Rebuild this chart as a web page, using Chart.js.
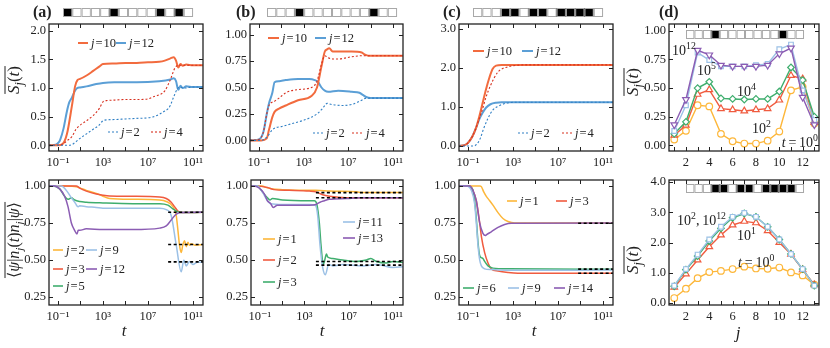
<!DOCTYPE html>
<html>
<head>
<meta charset="utf-8">
<script src="https://cdn.jsdelivr.net/npm/chart.js@4.4.1/dist/chart.umd.min.js"></script>
<style>
  html, body { margin: 0; padding: 0; background: #fff; }
  #wrap { position: relative; width: 830px; height: 348px; overflow: hidden; }
  #wrap canvas { position: absolute; }
</style>
</head>
<body>
<div id="wrap"></div>
<script>
// ---- data: [log10 t, value] pairs ----
// (a) upper: entanglement entropy
const aTopJ10 = [[-1.8,0],[-1,0],[-0.6,0.02],[-0.2,0.2],[0.23,0.68],[0.52,1.03],[0.73,1.14],[0.96,1.16],[1.54,1.22],[2.13,1.3],[2.7,1.38],[3,1.42],[4,1.43],[5,1.44],[6,1.44],[7,1.45],[8,1.46],[8.5,1.48],[9,1.52],[9.3,1.54],[9.5,1.48],[9.7,1.36],[9.9,1.42],[10.1,1.39],[10.4,1.41],[11,1.4],[11.9,1.4]];
const aTopJ12 = [[-1.8,0],[-1.2,0.01],[-0.94,0.05],[-0.8,0.1],[-0.5,0.3],[-0.2,0.6],[0,0.75],[0.2,0.82],[0.5,0.95],[0.7,1.0],[0.96,1.01],[1.54,1.03],[2.4,1.07],[3,1.09],[4,1.1],[6,1.1],[8,1.12],[9,1.15],[9.3,1.17],[9.5,1.12],[9.7,0.97],[9.9,1.04],[10.1,1.0],[10.4,1.03],[11,1.02],[11.9,1.02]];
const aTopJ2 = [[-1.8,0],[0,0],[0.23,0.01],[0.52,0.05],[0.96,0.12],[1.54,0.2],[2.13,0.28],[2.7,0.36],[2.94,0.42],[3.15,0.44],[4,0.45],[5,0.46],[6,0.47],[7,0.48],[7.5,0.5],[8,0.54],[8.5,0.6],[8.8,0.64],[9,0.7],[9.3,0.85],[9.6,0.98],[9.8,1.02],[10.2,1.0],[11,1.02],[11.9,1.02]];
const aTopJ4 = [[-1.8,0],[-1,0],[-0.5,0.03],[-0.2,0.08],[0.23,0.15],[0.6,0.28],[0.96,0.35],[1.54,0.43],[2.13,0.52],[2.7,0.65],[3,0.76],[3.3,0.78],[4,0.79],[5,0.8],[6,0.8],[7,0.81],[7.5,0.85],[8,0.88],[8.5,0.95],[9,1.15],[9.4,1.35],[9.7,1.4],[10,1.4],[11.9,1.4]];

// (b) upper
const bTopJ10 = [[-1.8,0],[-0.8,0],[-0.3,0.02],[-0.1,0.1],[0.2,0.22],[0.4,0.27],[0.8,0.3],[1.4,0.33],[2.5,0.38],[3.7,0.42],[4.2,0.5],[4.6,0.7],[4.9,0.84],[5.1,0.86],[5.3,0.87],[5.6,0.84],[6.1,0.84],[7.3,0.84],[8.2,0.83],[8.5,0.81],[8.8,0.8],[10,0.8],[11.9,0.8]];
const bTopJ12 = [[-1.8,0],[-1,0.01],[-0.6,0.08],[-0.3,0.25],[-0.1,0.35],[0.2,0.45],[0.4,0.55],[0.8,0.56],[1.4,0.57],[2.5,0.58],[3.5,0.58],[4,0.57],[4.3,0.55],[4.6,0.5],[4.9,0.47],[5.2,0.46],[6.1,0.47],[7.3,0.46],[8,0.45],[8.3,0.43],[8.6,0.41],[9,0.4],[11.9,0.4]];
const bTopJ2 = [[-1.8,0],[-0.8,0],[-0.3,0.03],[0.2,0.1],[0.5,0.12],[1,0.13],[2,0.16],[3,0.19],[3.7,0.22],[4.2,0.25],[4.6,0.29],[4.9,0.33],[5.1,0.35],[5.5,0.34],[6.5,0.33],[7.3,0.34],[7.8,0.36],[8.2,0.38],[8.6,0.4],[11.9,0.4]];
const bTopJ4 = [[-1.8,0],[-1,0.01],[-0.6,0.08],[-0.3,0.25],[-0.1,0.33],[0.4,0.37],[0.8,0.4],[1.4,0.45],[2.5,0.48],[3.7,0.5],[4.2,0.56],[4.6,0.72],[4.9,0.8],[5.2,0.78],[5.6,0.77],[6.1,0.77],[7.3,0.79],[8.2,0.8],[11.9,0.8]];

// (c) upper
const cTopJ10 = [[-1.8,0],[-1.3,0.02],[-1,0.08],[-0.6,0.25],[-0.3,0.45],[0,0.75],[0.3,1.1],[0.6,1.45],[0.9,1.75],[1.2,1.98],[1.5,2.06],[2,2.08],[11.9,2.08]];
const cTopJ12 = [[-1.8,0],[-1.3,0.02],[-1,0.08],[-0.6,0.25],[-0.3,0.45],[0,0.68],[0.3,0.85],[0.6,0.98],[1,1.07],[1.5,1.11],[2,1.12],[11.9,1.12]];
const cTopJ2 = [[-1.8,0],[-0.5,0],[-0.2,0.05],[0.1,0.2],[0.4,0.45],[0.8,0.72],[1.2,0.92],[1.7,1.02],[2.3,1.09],[3.2,1.12],[11.9,1.12]];
const cTopJ4 = [[-1.8,0],[-1.3,0.02],[-1,0.08],[-0.6,0.25],[-0.3,0.45],[0,0.7],[0.3,0.95],[0.6,1.25],[1,1.55],[1.67,1.9],[2.56,2.03],[3.4,2.07],[4,2.08],[11.9,2.08]];

// (a) lower: density autocorrelation
const aBotJ2 = [[-1.8,1],[-0.26,1],[0.63,0.995],[1,0.985],[1.52,0.97],[2.41,0.95],[3,0.93],[3.59,0.915],[5.67,0.91],[8.04,0.905],[8.63,0.895],[9.22,0.86],[9.52,0.8],[9.67,0.7],[9.81,0.6],[9.96,0.55],[10.1,0.6],[10.26,0.63],[10.41,0.59],[10.56,0.62],[10.7,0.6],[10.85,0.61],[11.2,0.6],[11.9,0.605]];
const aBotJ3 = [[-1.8,1],[0.63,1],[0.93,0.985],[1.52,0.965],[2.41,0.945],[3,0.937],[3.59,0.932],[5.67,0.93],[8.04,0.925],[8.63,0.915],[9.07,0.89],[9.37,0.86],[9.67,0.83],[10,0.82],[11.9,0.822]];
const aBotJ5 = [[-1.8,1],[-1.44,1],[-0.85,0.98],[-0.41,0.93],[-0.11,0.91],[0.19,0.92],[0.48,0.905],[0.93,0.895],[1.52,0.89],[3,0.885],[5.67,0.88],[8.04,0.88],[8.78,0.87],[9.22,0.845],[9.67,0.825],[10,0.82],[11.9,0.822]];
const aBotJ9 = [[-1.8,1],[-0.7,1],[-0.26,0.97],[0.19,0.92],[0.57,0.88],[0.69,0.865],[0.8,0.86],[0.93,0.866],[1.52,0.86],[2.41,0.855],[3,0.85],[5.67,0.85],[8.04,0.85],[8.63,0.84],[9.07,0.8],[9.52,0.6],[9.96,0.42],[10.2,0.5],[10.41,0.46],[10.7,0.49],[11,0.47],[11.4,0.485],[11.9,0.485]];
const aBotJ12 = [[-1.8,1],[-1.3,1],[-0.85,0.98],[-0.41,0.93],[-0.11,0.86],[0.19,0.75],[0.48,0.7],[0.69,0.675],[0.8,0.7],[0.93,0.7],[1.52,0.71],[3,0.705],[5.67,0.705],[8.04,0.715],[8.63,0.73],[9.07,0.77],[9.52,0.81],[10,0.82],[11.9,0.822]];
const aBotRef = [0.822, 0.605, 0.487];

// (b) lower
const bBotJ1 = [[-1.8,1],[-0.78,1],[-0.47,0.99],[0.13,0.98],[1.04,0.975],[3.15,0.97],[4.06,0.97],[5.27,0.965],[7.68,0.96],[8.29,0.955],[11.9,0.955]];
const bBotJ2 = [[-1.8,1],[-1.38,1],[-0.32,0.99],[0.28,0.975],[1.64,0.97],[3.45,0.965],[4.06,0.96],[4.66,0.94],[5.27,0.93],[6.78,0.92],[11.9,0.92]];
const bBotJ3 = [[-1.8,1],[-1.23,1],[-0.78,0.96],[-0.32,0.92],[-0.1,0.905],[0.13,0.915],[1.04,0.905],[3.45,0.9],[3.91,0.9],[4.12,0.88],[4.36,0.75],[4.51,0.6],[4.72,0.47],[4.85,0.5],[5,0.54],[5.11,0.52],[5.57,0.51],[6.47,0.5],[7.68,0.49],[8.59,0.5],[9,0.51],[9.5,0.49],[10.4,0.48],[11,0.49],[11.9,0.485]];
const bBotJ11 = [[-1.8,1],[-1.23,1],[-0.78,0.96],[-0.32,0.9],[-0.02,0.88],[1.04,0.875],[3.45,0.875],[4,0.87],[4.21,0.8],[4.42,0.6],[4.66,0.45],[4.9,0.4],[5.2,0.47],[5.57,0.46],[6.47,0.47],[8.29,0.46],[9.5,0.47],[11,0.45],[11.9,0.455]];
const bBotJ13 = [[-1.8,1],[-1.53,1],[-0.63,0.95],[-0.32,0.9],[-0.02,0.88],[0.19,0.855],[0.58,0.87],[1.04,0.87],[3.45,0.87],[4.06,0.875],[4.42,0.89],[4.81,0.9],[5.27,0.91],[6.78,0.915],[8,0.92],[11.9,0.92]];
const bBotRef = [0.955, 0.92, 0.49, 0.465];

// (c) lower
const cBotJ1 = [[-1.8,1],[0.04,1],[0.19,0.995],[0.4,0.96],[0.63,0.93],[0.93,0.9],[1.22,0.87],[1.67,0.82],[2.11,0.78],[2.56,0.76],[3.15,0.75],[11.9,0.75]];
const cBotJ3 = [[-1.8,1],[-0.85,1],[-0.56,0.97],[-0.26,0.9],[0.04,0.75],[0.19,0.66],[0.48,0.55],[0.78,0.48],[1.07,0.44],[1.67,0.425],[2.56,0.415],[3.44,0.41],[11.9,0.41]];
const cBotJ6 = [[-1.8,1],[-1,1],[-0.7,0.99],[-0.56,0.97],[-0.41,0.9],[-0.26,0.78],[-0.11,0.62],[0.04,0.53],[0.19,0.515],[0.33,0.51],[0.48,0.49],[0.78,0.46],[1.22,0.445],[2.56,0.44],[11.9,0.438]];
const cBotJ9 = [[-1.8,1],[-1.15,1],[-0.7,0.97],[-0.41,0.88],[-0.26,0.75],[-0.11,0.6],[0.04,0.5],[0.19,0.46],[0.48,0.44],[1.07,0.435],[2.56,0.43],[11.9,0.432]];
const cBotJ14 = [[-1.8,1],[-0.85,1],[-0.56,0.97],[-0.26,0.9],[0.04,0.75],[0.33,0.68],[0.55,0.665],[0.63,0.67],[1.07,0.69],[1.67,0.72],[2.26,0.74],[2.85,0.748],[11.9,0.75]];
const cBotRef = [0.748, 0.438, 0.41];

// (d) entropy profile vs site j
const sites = [1,2,3,4,5,6,7,8,9,10,11,12,13];
const dTopT0 = [0.05,0.126,0.35,0.34,0.10,0.035,0.015,0.015,0.04,0.12,0.48,0.51,0.19];
const dTopT2 = [0.088,0.175,0.445,0.485,0.32,0.31,0.30,0.31,0.32,0.395,0.61,0.58,0.2];
const dTopT4 = [0.10,0.205,0.50,0.555,0.41,0.405,0.40,0.405,0.405,0.47,0.68,0.57,0.25];
const dTopT5 = [0.125,0.35,0.81,0.745,0.69,0.69,0.69,0.70,0.71,0.84,0.88,0.48,0.22];
const dTopT12 = [0.18,0.40,0.83,0.79,0.70,0.69,0.69,0.69,0.70,0.80,0.85,0.42,0.18];
const dBotT0 = [0.16,0.47,0.82,1.02,1.06,1.12,1.2,1.14,1.13,1.17,1.01,0.91,0.6];
const dBotT1 = [0.52,0.96,1.42,1.86,2.25,2.58,2.7,2.65,2.39,2.0,1.61,1.1,0.6];
const dBotT2 = [0.55,1.1,1.55,2.05,2.47,2.82,2.96,2.85,2.52,2.1,1.62,1.12,0.57];
const dBotT12 = [0.57,1.12,1.6,2.1,2.52,2.85,2.98,2.85,2.52,2.1,1.62,1.12,0.57];

// occupation patterns shown above the panels
const stripA = [1,0,0,0,0,1,0,0,0,0,1,0,1,0];
const stripB = [0,0,0,1,0,0,0,0,0,0,0,1,0,0];
const stripC = [0,0,0,1,1,0,1,1,0,1,1,1,1,0];

// ticks
const logTickExps = [-1, 1, 3, 5, 7, 9, 11];
const logTickLabels = { '-1': '10⁻¹', '3': '10³', '7': '10⁷', '11': '10¹¹' };
const aTopYTicks = [0, 0.5, 1, 1.5, 2];
const bTopYTicks = [0, 0.25, 0.5, 0.75, 1];
const cTopYTicks = [0, 1, 2, 3];
const dTopYTicks = [0, 0.25, 0.5, 0.75, 1];
const botYTicks = [0.25, 0.5, 0.75, 1];
const dBotYTicks = [0, 1, 2, 3, 4];

// ---- styling ----
const SERIF = '"Liberation Serif", "DejaVu Serif", serif';
const INK = '#222';
const ORANGE = '#f26b3e', BLUE = '#5b9fd6', DBLUE = '#2f7fc4', DRED = '#d7301f';
const YEL = '#fdb73a', RED = '#f05b3f', GRN = '#3fae6e', LBLU = '#9cc1e6', PUR = '#8b5cb3';
const YW = 36, XH = 20, TL = 4;

// canvas box and plot area of every panel, page pixels
const LAYOUT = {
  aTop: { box: [0, 0, 212, 172], plot: [49, 24, 203, 151] },
  bTop: { box: [210, 0, 212, 172], plot: [250, 24, 403, 151] },
  cTop: { box: [420, 0, 208, 172], plot: [459, 24, 613, 151] },
  dTop: { box: [615, 0, 215, 172], plot: [669, 24, 819, 151] },
  aBot: { box: [0, 172, 212, 176], plot: [49, 180, 203, 305] },
  bBot: { box: [210, 172, 212, 176], plot: [251, 180, 403, 305] },
  cBot: { box: [420, 172, 208, 176], plot: [459, 180, 613, 305] },
  dBot: { box: [615, 172, 215, 176], plot: [669, 180, 819, 305] }
};

const wrap = document.getElementById('wrap');
const decoMap = new Map();

// text made of pieces: i = italic, b = bold, s = subscript, p = superscript
function rich(ctx, parts, x, y, o = {}) {
  const size = o.size || 13;
  const items = parts.map(p => {
    const txt = p[0], st = p[1] || '';
    const small = st.includes('s') || st.includes('p');
    const sz = small ? size * 0.7 : size;
    const font = (st.includes('i') ? 'italic ' : '') + (st.includes('b') ? 'bold ' : '') + sz + 'px ' + SERIF;
    ctx.font = font;
    return { txt, font, w: ctx.measureText(txt).width,
      dy: st.includes('s') ? size * 0.22 : st.includes('p') ? -size * 0.42 : 0 };
  });
  const W = items.reduce((s, it) => s + it.w, 0);
  ctx.save();
  ctx.translate(x, y);
  if (o.rot) ctx.rotate(o.rot);
  const start = o.align === 'center' ? -W / 2 : o.align === 'right' ? -W : 0;
  let cx = start;
  ctx.fillStyle = o.color || INK;
  ctx.textAlign = 'left';
  ctx.textBaseline = 'alphabetic';
  items.forEach(it => { ctx.font = it.font; ctx.fillText(it.txt, cx, it.dy); cx += it.w; });
  if (o.over) {
    ctx.strokeStyle = o.color || INK;
    ctx.lineWidth = 1;
    ctx.beginPath();
    ctx.moveTo(start, -o.over);
    ctx.lineTo(start + W, -o.over);
    ctx.stroke();
  }
  ctx.restore();
}

function legendItem(ctx, x1, x2, y, color, width, dash, n) {
  ctx.save();
  ctx.strokeStyle = color;
  ctx.lineWidth = width;
  ctx.setLineDash(dash || []);
  ctx.beginPath();
  ctx.moveTo(x1, y);
  ctx.lineTo(x2, y);
  ctx.stroke();
  ctx.restore();
  rich(ctx, [['j', 'i'], ['\u200a=\u200a' + n]], x2 + 3, y + 4, { size: 12.5 });
}

function strip(ctx, cells, x0, y0, w, h) {
  ctx.save();
  ctx.lineWidth = 1;
  cells.forEach((c, i) => {
    const x = x0 + i * w;
    ctx.fillStyle = c ? '#000' : '#fff';
    ctx.fillRect(x, y0, w, h);
    ctx.strokeStyle = '#a8a8a8';
    ctx.strokeRect(x + 0.5, y0 + 0.5, w - 1, h - 1);
  });
  ctx.restore();
}

function tag(ctx, s, x, y) {
  rich(ctx, [[s, 'b']], x, y, { size: 16 });
}

const sTitle = [['S', 'i'], ['j', 'is'], ['('], ['t', 'i'], [')']];
const nTitle = [['⟨'], ['ψ', 'i'], ['|'], ['n', 'i'], ['j', 'is'], ['('], ['t', 'i'], [')'], ['n', 'i'], ['j', 'is'], ['|'], ['ψ', 'i'], ['⟩']];

const decoPlugin = {
  id: 'panelDeco',
  afterDraw(chart) {
    const { ctx, chartArea: a } = chart;
    const sx = chart.scales.x, sy = chart.scales.y;
    ctx.save();
    ctx.strokeStyle = INK;
    ctx.lineWidth = 1;
    ctx.beginPath();
    sx.ticks.forEach(t => {
      const p = Math.round(sx.getPixelForValue(t.value)) + 0.5;
      ctx.moveTo(p, a.bottom); ctx.lineTo(p, a.bottom - TL);
      ctx.moveTo(p, a.top); ctx.lineTo(p, a.top + TL);
    });
    sy.ticks.forEach(t => {
      const p = Math.round(sy.getPixelForValue(t.value)) + 0.5;
      ctx.moveTo(a.left, p); ctx.lineTo(a.left + TL, p);
      ctx.moveTo(a.right, p); ctx.lineTo(a.right - TL, p);
    });
    ctx.stroke();
    ctx.lineWidth = 1.3;
    ctx.strokeRect(a.left, a.top, a.right - a.left, a.bottom - a.top);
    const d = decoMap.get(chart.canvas);
    if (d) { ctx.translate(-d.cx, -d.cy); d.draw(ctx); }
    ctx.restore();
  }
};

function zeroPad(s) { s.paddingLeft = 0; s.paddingRight = 0; s.paddingTop = 0; s.paddingBottom = 0; }
const tickFont = { family: SERIF, size: 12.5 };

function logX() {
  return {
    type: 'logarithmic', min: 10 ** -1.8, max: 10 ** 11.9,
    afterBuildTicks: s => { s.ticks = logTickExps.map(e => ({ value: 10 ** e })); },
    afterFit: s => { s.height = XH; zeroPad(s); },
    grid: { display: false, drawTicks: false }, border: { display: false },
    ticks: { autoSkip: false, maxRotation: 0, minRotation: 0, padding: 4, font: tickFont, color: INK,
      callback: v => logTickLabels[Math.round(Math.log10(v))] || '' }
  };
}
function siteX() {
  return {
    type: 'linear', min: 0.55, max: 13.4,
    afterBuildTicks: s => { s.ticks = sites.map(v => ({ value: v })); },
    afterFit: s => { s.height = XH; zeroPad(s); },
    grid: { display: false, drawTicks: false }, border: { display: false },
    ticks: { autoSkip: false, maxRotation: 0, minRotation: 0, padding: 4, font: tickFont, color: INK,
      callback: v => (v % 2 === 0 ? String(v) : '') }
  };
}
function linY(min, max, ticks, dec) {
  return {
    type: 'linear', min, max,
    afterBuildTicks: s => { s.ticks = ticks.map(v => ({ value: v })); },
    afterFit: s => { s.width = YW; zeroPad(s); },
    grid: { display: false, drawTicks: false }, border: { display: false },
    ticks: { autoSkip: false, padding: 3, font: tickFont, color: INK, callback: v => v.toFixed(dec) }
  };
}

function timeLine(pairs, color, width, dash) {
  return {
    data: pairs.map(([e, v]) => ({ x: 10 ** e, y: v })),
    borderColor: color, borderWidth: width, borderDash: dash || [],
    pointRadius: 0, fill: false, cubicInterpolationMode: 'monotone'
  };
}
function refLines(levels, fromExp) {
  return levels.map(v => ({
    data: [{ x: 10 ** fromExp, y: v }, { x: 10 ** 11.9, y: v }],
    borderColor: '#000', borderWidth: 1.6, borderDash: [3, 2.5], pointRadius: 0, fill: false
  }));
}
function siteLine(values, color, style, rot) {
  return {
    data: sites.map((j, i) => ({ x: j, y: values[i] })),
    borderColor: color, borderWidth: 1.4, pointStyle: style, pointRotation: rot || 0,
    pointRadius: style === 'triangle' ? 3.8 : 3.3, pointBackgroundColor: '#fff',
    pointBorderColor: color, pointBorderWidth: 1.2, fill: false, tension: 0
  };
}

function panel(key, xAxis, yAxis, datasets, draw) {
  const [cx, cy, cw, ch] = LAYOUT[key].box;
  const [L, T, R, B] = LAYOUT[key].plot;
  const cv = document.createElement('canvas');
  cv.width = cw; cv.height = ch;
  cv.style.left = cx + 'px'; cv.style.top = cy + 'px';
  wrap.appendChild(cv);
  decoMap.set(cv, { cx, cy, draw });
  new Chart(cv, {
    type: 'line',
    data: { datasets },
    options: {
      responsive: false, animation: false, devicePixelRatio: 1,
      layout: { padding: { left: L - cx - YW, top: T - cy, right: cx + cw - R, bottom: cy + ch - B - XH } },
      plugins: { legend: { display: false }, tooltip: { enabled: false } },
      scales: { x: xAxis, y: yAxis }
    },
    plugins: [decoPlugin]
  });
}

// ---- panels ----
panel('aTop', logX(), linY(-0.1, 2.12, aTopYTicks, 1), [
  timeLine(aTopJ2, DBLUE, 1.1, [2, 2]),
  timeLine(aTopJ4, DRED, 1.1, [2, 2]),
  timeLine(aTopJ10, ORANGE, 2),
  timeLine(aTopJ12, BLUE, 2)
], ctx => {
  tag(ctx, '(a)', 33, 17);
  strip(ctx, stripA, 63, 8, 9.29, 9);
  rich(ctx, sTitle, 19, 80, { size: 17, rot: -Math.PI / 2, align: 'center', over: 14 });
  legendItem(ctx, 78, 88, 43, ORANGE, 2, null, '10');
  legendItem(ctx, 116, 126, 43, BLUE, 2, null, '12');
  legendItem(ctx, 108, 118, 132, DBLUE, 1.1, [2, 2], '2');
  legendItem(ctx, 151, 161, 132, DRED, 1.1, [2, 2], '4');
});

panel('bTop', logX(), linY(-0.1, 1.1, bTopYTicks, 2), [
  timeLine(bTopJ2, DBLUE, 1.1, [2, 2]),
  timeLine(bTopJ4, DRED, 1.1, [2, 2]),
  timeLine(bTopJ10, ORANGE, 2),
  timeLine(bTopJ12, BLUE, 2)
], ctx => {
  tag(ctx, '(b)', 236, 17);
  strip(ctx, stripB, 267, 8, 9.29, 9);
  legendItem(ctx, 268, 279, 38, ORANGE, 2, null, '10');
  legendItem(ctx, 315, 326, 38, BLUE, 2, null, '12');
  legendItem(ctx, 313, 323, 133, DBLUE, 1.1, [2, 2], '2');
  legendItem(ctx, 352, 363, 133, DRED, 1.1, [2, 2], '4');
});

panel('cTop', logX(), linY(-0.13, 3.13, cTopYTicks, 1), [
  timeLine(cTopJ2, DBLUE, 1.1, [2, 2]),
  timeLine(cTopJ4, DRED, 1.1, [2, 2]),
  timeLine(cTopJ10, ORANGE, 2),
  timeLine(cTopJ12, BLUE, 2)
], ctx => {
  tag(ctx, '(c)', 443, 17);
  strip(ctx, stripC, 473, 8, 9.29, 9);
  legendItem(ctx, 473, 484, 51, ORANGE, 2, null, '10');
  legendItem(ctx, 522, 533, 51, BLUE, 2, null, '12');
  legendItem(ctx, 518, 528, 133, DBLUE, 1.1, [2, 2], '2');
  legendItem(ctx, 562, 572, 133, DRED, 1.1, [2, 2], '4');
});

panel('dTop', siteX(), linY(-0.05, 1.06, dTopYTicks, 2), [
  siteLine(dTopT12, PUR, 'triangle', 180),
  siteLine(dTopT5, LBLU, 'rect'),
  siteLine(dTopT4, GRN, 'rectRot'),
  siteLine(dTopT2, RED, 'triangle'),
  siteLine(dTopT0, YEL, 'circle')
], ctx => {
  tag(ctx, '(d)', 659, 17);
  strip(ctx, stripB, 686, 30, 8.43, 9);
  rich(ctx, sTitle, 638, 82, { size: 17, rot: -Math.PI / 2, align: 'center', over: 14 });
  rich(ctx, [['10'], ['12', 'p']], 672, 55, { size: 14 });
  rich(ctx, [['10'], ['5', 'p']], 697, 75, { size: 14 });
  rich(ctx, [['10'], ['4', 'p']], 737, 96, { size: 14 });
  rich(ctx, [['10'], ['2', 'p']], 752, 133, { size: 14 });
  rich(ctx, [['t', 'i'], ['\u2009=\u200910'], ['0', 'p']], 818, 147, { size: 14, align: 'right' });
});

panel('aBot', logX(), linY(0.196, 1.04, botYTicks, 2), [
  ...refLines(aBotRef, 8.8),
  timeLine(aBotJ12, PUR, 1.5),
  timeLine(aBotJ9, LBLU, 1.5),
  timeLine(aBotJ5, GRN, 1.5),
  timeLine(aBotJ3, RED, 1.5),
  timeLine(aBotJ2, YEL, 1.5)
], ctx => {
  rich(ctx, nTitle, 19, 240, { size: 16, rot: -Math.PI / 2, align: 'center', over: 14 });
  rich(ctx, [['t', 'i']], 124, 336, { size: 17, align: 'center' });
  legendItem(ctx, 53, 63, 250, YEL, 1.6, null, '2');
  legendItem(ctx, 86, 97, 250, LBLU, 1.6, null, '9');
  legendItem(ctx, 53, 63, 269, RED, 1.6, null, '3');
  legendItem(ctx, 86, 97, 269, PUR, 1.6, null, '12');
  legendItem(ctx, 53, 63, 286, GRN, 1.6, null, '5');
});

panel('bBot', logX(), linY(0.196, 1.04, botYTicks, 2), [
  ...refLines(bBotRef, 4.05),
  timeLine(bBotJ13, PUR, 1.5),
  timeLine(bBotJ11, LBLU, 1.5),
  timeLine(bBotJ3, GRN, 1.5),
  timeLine(bBotJ2, RED, 1.5),
  timeLine(bBotJ1, YEL, 1.5)
], ctx => {
  rich(ctx, [['t', 'i']], 322, 336, { size: 17, align: 'center' });
  legendItem(ctx, 263, 275, 239, YEL, 1.6, null, '1');
  legendItem(ctx, 263, 275, 260, RED, 1.6, null, '2');
  legendItem(ctx, 263, 275, 282, GRN, 1.6, null, '3');
  legendItem(ctx, 343, 355, 222, LBLU, 1.6, null, '11');
  legendItem(ctx, 343, 355, 238, PUR, 1.6, null, '13');
});

panel('cBot', logX(), linY(0.196, 1.04, botYTicks, 2), [
  ...refLines(cBotRef, 8.8),
  timeLine(cBotJ14, PUR, 1.5),
  timeLine(cBotJ9, LBLU, 1.5),
  timeLine(cBotJ6, GRN, 1.5),
  timeLine(cBotJ3, RED, 1.5),
  timeLine(cBotJ1, YEL, 1.5)
], ctx => {
  rich(ctx, [['t', 'i']], 534, 336, { size: 17, align: 'center' });
  legendItem(ctx, 507, 517, 201, YEL, 1.6, null, '1');
  legendItem(ctx, 556, 567, 201, RED, 1.6, null, '3');
  legendItem(ctx, 463, 474, 288, GRN, 1.6, null, '6');
  legendItem(ctx, 508, 519, 288, LBLU, 1.6, null, '9');
  legendItem(ctx, 554, 565, 288, PUR, 1.6, null, '14');
});

panel('dBot', siteX(), linY(-0.07, 4.07, dBotYTicks, 1), [
  siteLine(dBotT12, LBLU, 'rect'),
  siteLine(dBotT2, GRN, 'rectRot'),
  siteLine(dBotT1, RED, 'triangle'),
  siteLine(dBotT0, YEL, 'circle')
], ctx => {
  strip(ctx, stripC, 686, 184, 8.43, 9);
  rich(ctx, sTitle, 638, 260, { size: 17, rot: -Math.PI / 2, align: 'center', over: 14 });
  rich(ctx, [['j', 'i']], 738, 338, { size: 17, align: 'center' });
  rich(ctx, [['10'], ['2', 'p'], [',\u200910'], ['12', 'p']], 677, 225, { size: 14 });
  rich(ctx, [['10'], ['1', 'p']], 737, 240, { size: 14 });
  rich(ctx, [['t', 'i'], ['\u2009=\u200910'], ['0', 'p']], 738, 267, { size: 14 });
});
</script>
</body>
</html>
